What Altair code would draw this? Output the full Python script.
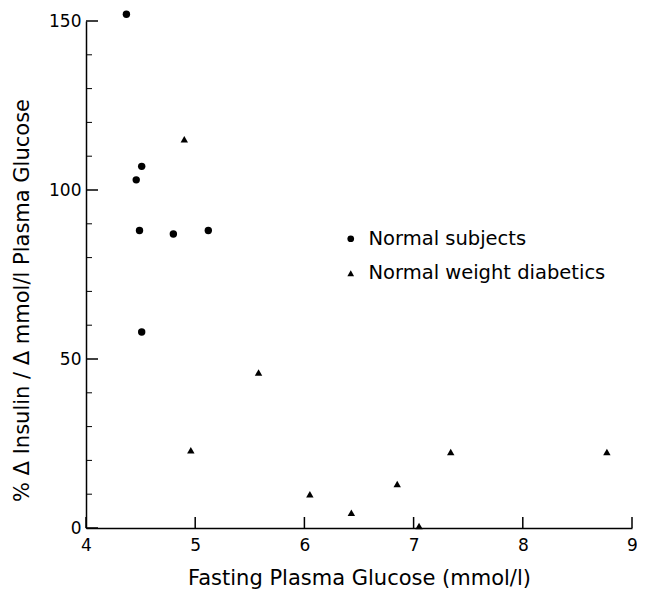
import altair as alt
import pandas as pd

# --- data ---
normal_x = [4.37, 4.51, 4.46, 4.49, 4.80, 5.12, 4.51]
normal_y = [152, 107, 103, 88, 87, 88, 58]
diab_x = [4.90, 4.96, 5.58, 6.05, 6.43, 6.85, 7.05, 7.34, 8.77]
diab_y = [115, 23, 46, 10, 4.5, 13, 0.6, 22.5, 22.5]
groups = ["Normal subjects", "Normal weight diabetics"]

x_ticks = [4, 5, 6, 7, 8, 9]
y_major = [0, 50, 100, 150]
y_minor = [10, 20, 30, 40, 60, 70, 80, 90, 110, 120, 130, 140]

FONT = "DejaVu Sans"
W, H = 546, 507

pts = pd.DataFrame({
    "x": normal_x + diab_x,
    "y": normal_y + diab_y,
    "g": [groups[0]] * len(normal_x) + [groups[1]] * len(diab_x),
})

xs = alt.Scale(domain=[4, 9], nice=False, zero=False)
ys = alt.Scale(domain=[0, 150], nice=False)

points = alt.Chart(pts).mark_point(filled=True, opacity=1, color="black", size=55).encode(
    x=alt.X("x:Q", scale=xs, axis=alt.Axis(
        values=x_ticks, format="d", ticks=False, domainColor="black", domainWidth=1.5,
        labelFont=FONT, labelFontSize=17, labelColor="black", labelPadding=9,
        labelFlush=False,
        grid=False, title="Fasting Plasma Glucose (mmol/l)", titleFont=FONT,
        titleFontSize=21, titleFontWeight="normal", titleColor="black",
        titleX=273, titleY=50, titleBaseline="middle")),
    y=alt.Y("y:Q", scale=ys, axis=alt.Axis(
        values=y_major, format="d", ticks=False, domainColor="black", domainWidth=1.5,
        labelFont=FONT, labelFontSize=17, labelColor="black", labelPadding=5,
        labelFlush=False,
        grid=False, title="% \u0394 Insulin / \u0394 mmol/l Plasma Glucose",
        titleFont=FONT, titleFontSize=21, titleFontWeight="normal",
        titleColor="black", titleX=-64, titleY=279, titleBaseline="middle",
        titleAngle=-90)),
    shape=alt.Shape("g:N", scale=alt.Scale(domain=groups, range=["circle", "triangle-up"]),
                    legend=alt.Legend(title=None, orient="none", legendX=255, legendY=208,
                                      labelFont=FONT, labelFontSize=19.5, labelColor="black",
                                      labelLimit=0,
                                      symbolFillColor="black", symbolStrokeColor="black",
                                      symbolSize=45, rowPadding=13.5, labelOffset=8)),
)

xt = alt.Chart(pd.DataFrame({"v": x_ticks})).mark_rule(color="black", strokeWidth=1.5).encode(
    x=alt.X("v:Q", scale=xs), y=alt.value(H), y2=alt.value(H - 11))
ymaj = alt.Chart(pd.DataFrame({"v": y_major})).mark_rule(color="black", strokeWidth=1.5).encode(
    y=alt.Y("v:Q", scale=ys), x=alt.value(0), x2=alt.value(12))
ymin = alt.Chart(pd.DataFrame({"v": y_minor})).mark_rule(color="black", strokeWidth=1).encode(
    y=alt.Y("v:Q", scale=ys), x=alt.value(0), x2=alt.value(6))

chart = alt.layer(xt, ymaj, ymin, points).properties(
    width=W, height=H,
    autosize=alt.AutoSizeParams(type="none"),
    padding={"left": 78, "top": 13, "right": 5, "bottom": 62},
    background="white",
).configure_view(stroke=None)

chart.save("out.html", embed_options={"renderer": "svg", "actions": False})
